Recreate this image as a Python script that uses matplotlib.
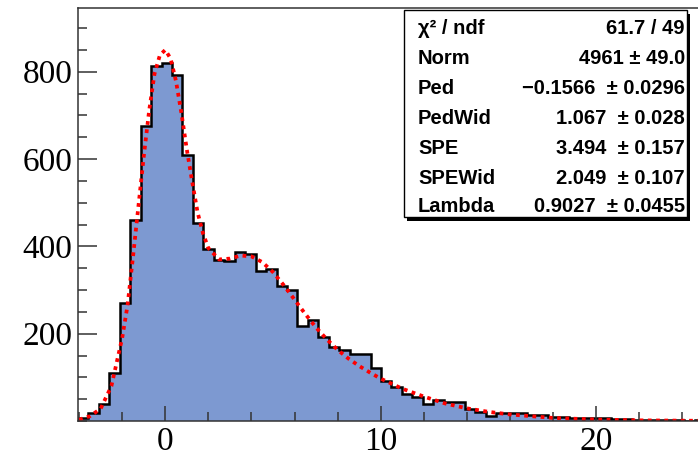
import numpy as np
import matplotlib
import matplotlib.pyplot as plt
from matplotlib.patches import Rectangle
from matplotlib.ticker import MultipleLocator

matplotlib.rcParams['font.family'] = 'serif'
matplotlib.rcParams['font.serif'] = ['Liberation Serif']

# histogram: lower edge, bin width, bin contents
bin_lo = -4.05
bin_width = 0.485
counts = [8, 18, 38, 111, 270, 460, 676, 814, 820, 793,
          609, 454, 394, 368, 366, 386, 383, 344, 348, 309,
          301, 218, 231, 193, 170, 163, 154, 153, 121, 92,
          77, 62, 54, 38, 48, 44, 44, 27, 21, 11,
          18, 19, 19, 14, 14, 10, 9, 8, 6, 7,
          8, 5, 4, 3, 3, 2, 3, 2, 1, 2]

# fit curve
fit_x = [-4.0, -3.5, -3.0, -2.5, -2.0, -1.75, -1.5, -1.25, -1.0, -0.75,
         -0.5, -0.25, 0.0, 0.25, 0.5, 0.75, 1.0, 1.25, 1.5, 1.75,
         2.0, 2.5, 3.0, 3.5, 4.0, 4.5, 5.0, 5.5, 6.0, 6.5,
         7.0, 7.5, 8.0, 8.5, 9.0, 9.5, 10.0, 11.0, 12.0, 13.0,
         14.0, 15.0, 16.0, 18.0, 20.0, 22.0, 25.05]
fit_y = [3, 11, 28, 80, 190, 265, 375, 490, 605, 710,
         795, 838, 850, 830, 778, 705, 622, 548, 478, 430,
         396, 370, 372, 379, 377, 364, 341, 311, 278, 245,
         214, 187, 163, 143, 126, 111, 97, 74, 56, 40,
         29, 21, 15, 7, 3.4, 1.5, 0.4]

stat_names = ["\u03c7\u00b2 / ndf", "Norm", "Ped", "PedWid", "SPE", "SPEWid", "Lambda"]
stat_values = ["61.7 / 49", "4961 \u00b1 49.0", "\u22120.1566  \u00b1 0.0296",
               "1.067  \u00b1 0.028", "3.494  \u00b1 0.157", "2.049  \u00b1 0.107",
               "0.9027  \u00b1 0.0455"]

edges = bin_lo + bin_width * np.arange(len(counts) + 1)

fig = plt.figure(figsize=(6.98, 4.58), dpi=100)
ax = fig.add_axes([78 / 698, 37 / 458, 627 / 698, 413 / 458])

ax.stairs(counts, edges, fill=True, color='#7d99d1', lw=0)
ax.stairs(counts, edges, color='black', lw=1.8)
ax.plot(fit_x, fit_y, color='red', lw=2.7, ls=(0, (1, 1.2)))

ax.set_xlim(edges[0], edges[-1])
ax.set_ylim(0, 946)

ax.xaxis.set_major_locator(MultipleLocator(10))
ax.xaxis.set_minor_locator(MultipleLocator(2))
ax.set_yticks([200, 400, 600, 800])
ax.yaxis.set_minor_locator(MultipleLocator(50))

ax.tick_params(axis='both', which='both', direction='in', color='#333333',
               width=1.1, labelsize=24, top=False, right=False)
ax.tick_params(axis='x', which='major', length=11, pad=4)
ax.tick_params(axis='x', which='minor', length=6.5)
ax.tick_params(axis='y', which='major', length=13.5, pad=4)
ax.tick_params(axis='y', which='minor', length=6.5)
for s in ax.spines.values():
    s.set_linewidth(1.1)
    s.set_color('#333333')

# stats box (ROOT style with shadow)
H = 458
fig.patches.append(Rectangle((407 / 698, (H - 220.5) / H), 283 / 698, 207 / H,
                             transform=fig.transFigure, facecolor='black',
                             edgecolor='none', zorder=5))
fig.patches.append(Rectangle((404 / 698, (H - 217) / H), 283 / 698, 207 / H,
                             transform=fig.transFigure, facecolor='white',
                             edgecolor='black', lw=1.0, zorder=6))
row_y = [28, 58, 88, 118, 148, 178, 207]
for name, val, y in zip(stat_names, stat_values, row_y):
    fig.text(418 / 698, 1 - y / H, name, ha='left', va='center',
             family='Liberation Sans', weight='bold', fontsize=14.5, zorder=7)
    fig.text(685 / 698, 1 - y / H, val, ha='right', va='center',
             family='Liberation Sans', weight='bold', fontsize=14.5, zorder=7)

fig.savefig('out.png', dpi=100)
